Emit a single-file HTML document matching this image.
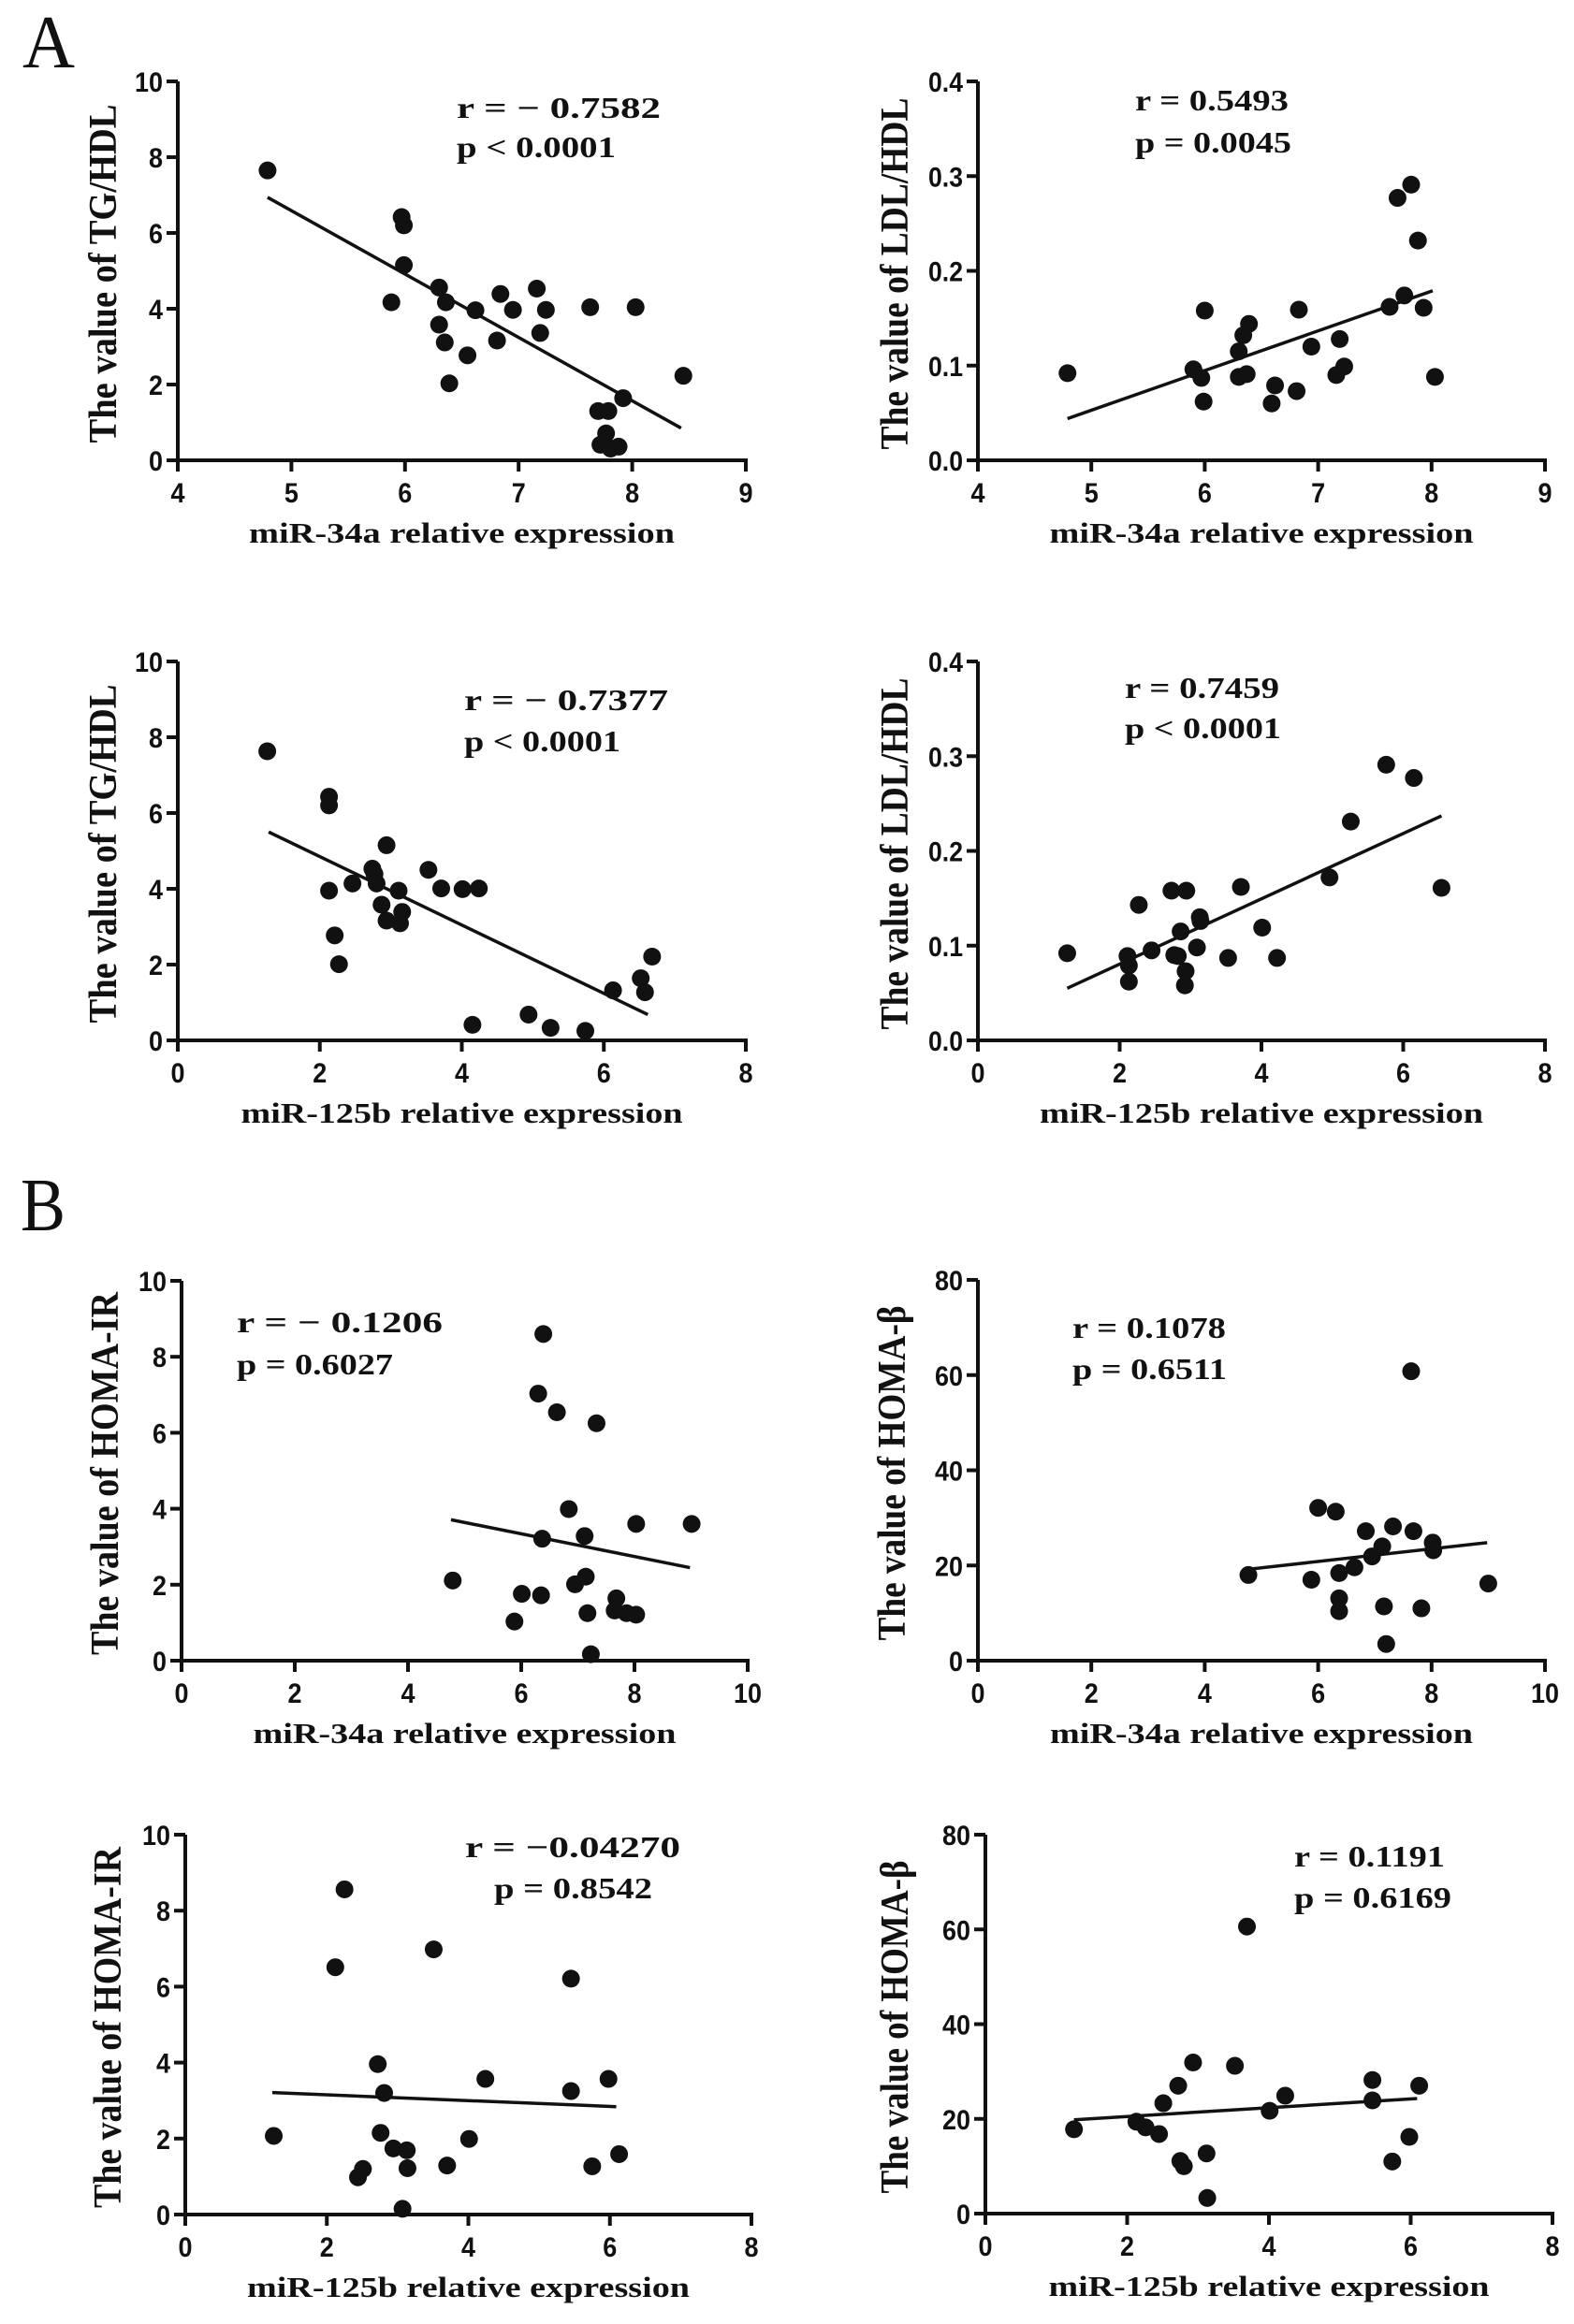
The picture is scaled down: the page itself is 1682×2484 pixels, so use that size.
<!DOCTYPE html>
<html><head><meta charset="utf-8"><style>
html,body{margin:0;padding:0;background:#fff;}
svg{display:block;}
.tick{font-family:"Liberation Sans",sans-serif;font-weight:bold;font-size:30px;fill:#111;}
.title{font-family:"Liberation Serif",serif;font-weight:bold;font-size:31px;fill:#111;}
.ytitle{font-family:"Liberation Serif",serif;font-weight:bold;font-size:42px;fill:#111;}
.stat{font-family:"Liberation Serif",serif;font-weight:bold;font-size:32px;fill:#111;}
.panel-letter{font-family:"Liberation Serif",serif;font-size:80px;fill:#111;}
</style></head><body>
<svg id="fig" width="1682" height="2484" viewBox="0 0 1682 2484" xmlns="http://www.w3.org/2000/svg">
<rect width="1682" height="2484" fill="#fff"/>
<text class="panel-letter" x="24" y="72" textLength="56" lengthAdjust="spacingAndGlyphs">A</text>
<text class="panel-letter" x="22" y="1315" textLength="48" lengthAdjust="spacingAndGlyphs">B</text>
</svg>
<script>
// Panel 1: miR-34a vs TG/HDL
const p1X=[4.79,5.97,5.99,5.99,5.88,6.30,6.36,6.30,6.35,6.39,6.55,6.62,6.84,6.81,6.95,7.16,7.24,7.19,7.63,8.03,8.45,7.92,7.70,7.79,7.77,7.72,7.81,7.88];
const p1Y=[7.65,6.42,6.2,5.15,4.17,4.56,4.17,3.58,3.11,2.03,2.77,3.96,4.39,3.16,3.97,4.53,3.97,3.36,4.04,4.04,2.23,1.64,1.30,1.30,0.71,0.41,0.31,0.36];
const p1FitX=[4.79,8.43];
const p1FitY=[6.94,0.85];
// Panel 2: miR-34a vs LDL/HDL
const p2X=[4.79,6.0,5.9,5.97,5.99,6.30,6.34,6.39,6.30,6.37,6.59,6.62,6.81,6.83,6.94,7.16,7.19,7.23,7.63,7.70,7.76,7.82,7.88,7.93,8.03];
const p2Y=[0.092,0.158,0.096,0.087,0.062,0.115,0.132,0.144,0.088,0.091,0.060,0.079,0.073,0.159,0.120,0.090,0.128,0.099,0.162,0.277,0.174,0.291,0.232,0.161,0.088];
const p2FitX=[4.79,8.01];
const p2FitY=[0.044,0.179];
// Panel 3: miR-125b vs TG/HDL
const p3X=[1.26,2.13,2.13,2.13,2.21,2.27,2.46,2.74,2.77,2.80,2.94,2.87,2.94,3.11,3.16,3.13,3.53,3.71,4.01,4.24,4.15,4.94,5.25,5.74,6.13,6.52,6.58,6.68];
const p3Y=[7.63,6.43,6.2,3.95,2.77,2.01,4.14,4.53,4.39,4.14,5.15,3.58,3.16,3.95,3.39,3.09,4.5,4.01,3.99,4.01,0.41,0.68,0.33,0.25,1.32,1.64,1.27,2.21];
const p3FitX=[1.28,6.62];
const p3FitY=[5.5,0.68];
// Panel 4: miR-125b vs LDL/HDL
const p4X=[1.26,2.11,2.13,2.13,2.27,2.45,2.73,2.94,2.86,2.77,2.82,2.93,2.92,3.09,3.13,3.14,3.53,3.71,4.01,4.22,4.96,5.26,5.76,6.15,6.54];
const p4Y=[0.092,0.089,0.079,0.062,0.143,0.095,0.158,0.158,0.115,0.090,0.089,0.073,0.058,0.098,0.130,0.126,0.087,0.162,0.119,0.087,0.172,0.231,0.291,0.277,0.161];
const p4FitX=[1.26,6.54];
const p4FitY=[0.055,0.237];
// Panel 5: miR-34a vs HOMA-IR
const p5X=[4.79,6.39,6.30,6.63,7.33,6.84,6.37,7.12,8.03,9.01,6.01,6.35,5.88,6.95,7.14,7.17,7.68,7.65,7.86,8.03,7.23];
const p5Y=[2.11,8.6,7.03,6.54,6.25,3.99,3.21,3.28,3.6,3.6,1.76,1.72,1.03,2.01,2.21,1.25,1.64,1.32,1.25,1.21,0.17];
const p5FitX=[4.76,8.98];
const p5FitY=[3.71,2.45];
// Panel 6: miR-34a vs HOMA-beta
const p6X=[4.77,6.0,6.31,5.88,6.37,6.37,6.37,6.64,6.84,6.95,7.13,7.32,7.16,7.2,7.64,7.68,7.82,8.02,8.03,9.0];
const p6Y=[18.0,32.1,31.3,17.0,18.4,13.1,10.4,19.6,27.2,21.9,24.0,28.2,11.4,3.5,60.8,27.2,11.0,24.8,23.2,16.2];
const p6FitX=[4.77,8.98];
const p6FitY=[19.2,24.8];
// Panel 7: miR-125b vs HOMA-IR
const p7X=[1.25,2.25,2.12,2.72,2.81,2.76,2.44,2.51,2.94,3.13,3.14,3.07,3.51,3.70,4.01,4.24,5.45,5.45,5.75,5.98,6.13];
const p7Y=[2.07,8.56,6.51,3.96,3.2,2.15,0.98,1.2,1.74,1.69,1.22,0.15,6.98,1.29,1.99,3.57,6.21,3.25,1.27,3.57,1.59];
const p7FitX=[1.23,6.09];
const p7FitY=[3.21,2.84];
// Panel 8: miR-125b vs HOMA-beta
const p8X=[1.25,2.13,2.26,2.45,2.51,2.72,2.93,2.75,2.80,3.12,3.13,3.52,3.69,4.01,4.23,5.46,5.46,5.74,5.98,6.12];
const p8Y=[17.8,19.4,18.2,16.8,23.3,27.0,31.9,11.1,10.0,12.7,3.3,31.2,60.6,21.7,24.9,28.2,23.9,11.0,16.2,27.0];
const p8FitX=[1.25,6.09];
const p8FitY=[19.8,24.3];

const ticks34=["4","5","6","7","8","9"];
const ticks125=["0","2","4","6","8"];
const ticksB34=["0","2","4","6","8","10"];
const ticksTG=["0","2","4","6","8","10"];
const ticksLDL=["0.0","0.1","0.2","0.3","0.4"];
const ticksBeta=["0","20","40","60","80"];

const NS="http://www.w3.org/2000/svg";
const svg=document.getElementById('fig');
function mk(tag,attrs,parent){const e=document.createElementNS(NS,tag);for(const k in attrs)e.setAttribute(k,attrs[k]);(parent||svg).appendChild(e);return e;}
function tlen(s){let n=0;for(const c of s)n+=(c==='.')?7:15;return n;}

const panels=[
 {id:'p1',L:190,R:797,B:492,T:87,xt:ticks34,yt:ticksTG,X:p1X,Y:p1Y,FX:p1FitX,FY:p1FitY,xtitle:'miR-34a relative expression',xl:455,ytitle:'The value of TG/HDL',yl:362,ycx:111,r:'r = \u2212 0.7582',p:'p < 0.0001',sx:488,ry:126,py:168,rl:218,pl:170,psx:488},
 {id:'p2',L:1045,R:1651,B:492,T:87,xt:ticks34,yt:ticksLDL,X:p2X,Y:p2Y,FX:p2FitX,FY:p2FitY,xtitle:'miR-34a relative expression',xl:453,ytitle:'The value of LDL/HDL',yl:376,ycx:957,r:'r = 0.5493',p:'p = 0.0045',sx:1213,ry:118,py:163,rl:164,pl:167,psx:1213},
 {id:'p3',L:190,R:797,B:1112,T:707,xt:ticks125,yt:ticksTG,X:p3X,Y:p3Y,FX:p3FitX,FY:p3FitY,xtitle:'miR-125b relative expression',xl:472,ytitle:'The value of TG/HDL',yl:362,ycx:111,r:'r = \u2212 0.7377',p:'p < 0.0001',sx:496,ry:759,py:803,rl:218,pl:167,psx:496},
 {id:'p4',L:1045,R:1651,B:1112,T:707,xt:ticks125,yt:ticksLDL,X:p4X,Y:p4Y,FX:p4FitX,FY:p4FitY,xtitle:'miR-125b relative expression',xl:474,ytitle:'The value of LDL/HDL',yl:376,ycx:957,r:'r = 0.7459',p:'p < 0.0001',sx:1202,ry:746,py:789,rl:165,pl:167,psx:1202},
 {id:'p5',L:194,R:799,B:1775,T:1369,xt:ticksB34,yt:ticksTG,X:p5X,Y:p5Y,FX:p5FitX,FY:p5FitY,xtitle:'miR-34a relative expression',xl:452,ytitle:'The value of HOMA-IR',yl:388,ycx:113,r:'r = \u2212 0.1206',p:'p = 0.6027',sx:253,ry:1424,py:1469,rl:220,pl:167,psx:253},
 {id:'p6',L:1045,R:1651,B:1775,T:1368,xt:ticksB34,yt:ticksBeta,X:p6X,Y:p6Y,FX:p6FitX,FY:p6FitY,xtitle:'miR-34a relative expression',xl:452,ytitle:'The value of HOMA-\u03b2',yl:358,ycx:954,r:'r = 0.1078',p:'p = 0.6511',sx:1146,ry:1430,py:1474,rl:164,pl:165,psx:1146},
 {id:'p7',L:198,R:803,B:2367,T:1961,xt:ticks125,yt:ticksTG,X:p7X,Y:p7Y,FX:p7FitX,FY:p7FitY,xtitle:'miR-125b relative expression',xl:473,ytitle:'The value of HOMA-IR',yl:386,ycx:116,r:'r = \u22120.04270',p:'p = 0.8542',sx:497,ry:1985,py:2029,rl:230,pl:169,psx:528},
 {id:'p8',L:1053,R:1659,B:2366,T:1961,xt:ticks125,yt:ticksBeta,X:p8X,Y:p8Y,FX:p8FitX,FY:p8FitY,xtitle:'miR-125b relative expression',xl:471,ytitle:'The value of HOMA-\u03b2',yl:356,ycx:957,r:'r = 0.1191',p:'p = 0.6169',sx:1383,ry:1995,py:2039,rl:161,pl:168,psx:1383}
];

panels.forEach(P=>{
  const g=mk('g',{});
  
  
  const x0=parseFloat(P.xt[0]),x1=parseFloat(P.xt[P.xt.length-1]);
  const y0=parseFloat(P.yt[0]),y1=parseFloat(P.yt[P.yt.length-1]);
  const sx=v=>P.L+(v-x0)/(x1-x0)*(P.R-P.L);
  const sy=v=>P.B-(v-y0)/(y1-y0)*(P.B-P.T);
  const ax=mk('line',{x1:P.L,y1:P.T,x2:P.L,y2:P.B+2,stroke:'#111','stroke-width':4},g);
  
  
  const bx=mk('line',{x1:P.L-2,y1:P.B,x2:P.R+2,y2:P.B,stroke:'#111','stroke-width':4},g);
  
  
  P.xt.forEach(t=>{
    const x=sx(parseFloat(t));
    const tk=mk('line',{x1:x,y1:P.B,x2:x,y2:P.B+12,stroke:'#111','stroke-width':4},g);
    
    
    const tx=mk('text',{class:'tick',x:x,y:P.B+45,'text-anchor':'middle',textLength:tlen(t),lengthAdjust:'spacingAndGlyphs'},g);
    tx.textContent=t;
    
    
  });
  P.yt.forEach(t=>{
    const y=sy(parseFloat(t));
    const tk=mk('line',{x1:P.L-12,y1:y,x2:P.L,y2:y,stroke:'#111','stroke-width':4},g);
    
    
    const tx=mk('text',{class:'tick',x:P.L-16,y:y+11,'text-anchor':'end',textLength:tlen(t),lengthAdjust:'spacingAndGlyphs'},g);
    tx.textContent=t;
    
    
  });
  const xt=mk('text',{class:'title',x:(P.L+P.R)/2,y:P.B+88,'text-anchor':'middle',textLength:P.xl,lengthAdjust:'spacingAndGlyphs'},g);
  xt.textContent=P.xtitle;
  
  
  const cy=(P.T+P.B)/2+3;
  const yt=mk('text',{class:'ytitle',x:P.ycx,y:cy,'text-anchor':'middle','dominant-baseline':'central',transform:'rotate(-90 '+P.ycx+' '+cy+')',textLength:P.yl,lengthAdjust:'spacingAndGlyphs'},g);
  yt.textContent=P.ytitle;
  
  
  const rt=mk('text',{class:'stat',x:P.sx,y:P.ry,textLength:P.rl,lengthAdjust:'spacingAndGlyphs'},g);
  rt.textContent=P.r;
  
  
  const pt=mk('text',{class:'stat',x:P.psx,y:P.py,textLength:P.pl,lengthAdjust:'spacingAndGlyphs'},g);
  pt.textContent=P.p;
  
  
  const fl=mk('line',{x1:sx(P.FX[0]),y1:sy(P.FY[0]),x2:sx(P.FX[1]),y2:sy(P.FY[1]),stroke:'#111','stroke-width':3.5},g);
  
  
  P.X.forEach((v,i)=>{
    const c=mk('circle',{cx:sx(v),cy:sy(P.Y[i]),r:9.5,fill:'#111'},g);
    
    
  });
});
</script>
</body></html>
